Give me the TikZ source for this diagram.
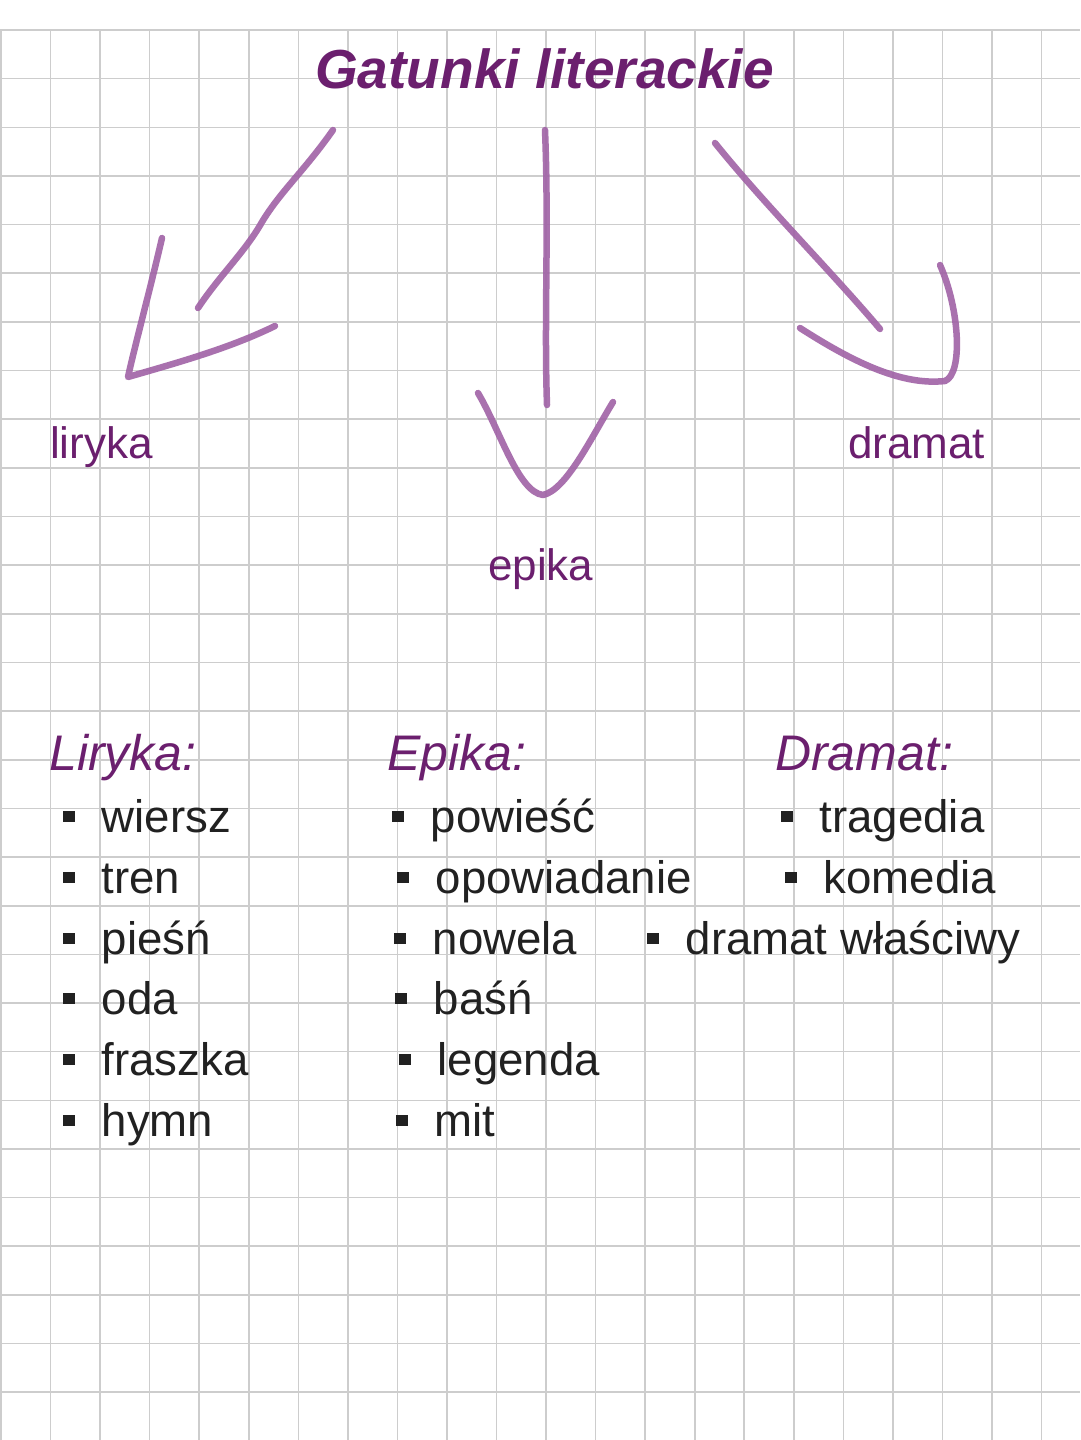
\documentclass[tikz,border=0pt]{standalone}
\usepackage{fontspec}
\setmainfont{Liberation Sans}
\usepackage{tikz}
\usetikzlibrary{positioning}
\definecolor{titlepurple}{HTML}{6B1F6E}
\definecolor{penpurple}{HTML}{A062A6}
\definecolor{textgray}{HTML}{212121}
\definecolor{gridgray}{HTML}{CDCDCD}
\newcommand{\sqbullet}{\rule[10pt]{11.5pt}{11.5pt}\hspace{27pt}}

\begin{document}
\begin{tikzpicture}[x=1pt, y=-1pt,
	grid line/.style={draw=gridgray, line width=1.6pt},
	title node/.style={inner sep=0pt, anchor=base west, text=titlepurple, font=\fontsize{55}{66}\selectfont\bfseries\itshape},
	head node/.style={inner sep=0pt, anchor=base west, text=titlepurple, font=\fontsize{50}{60}\selectfont\itshape},
	genre node/.style={inner sep=0pt, anchor=base west, text=titlepurple, font=\fontsize{44}{53}\selectfont},
	list node/.style={inner sep=0pt, anchor=base west, text=textgray, font=\fontsize{45.6}{54}\selectfont},
	pen/.style={draw=penpurple, line width=6.5pt, line cap=round, line join=round, opacity=0.9}]
		
		% Paper
		\useasboundingbox (0,0) rectangle (1080,1440);
		\fill[white] (0,0) rectangle (1080,1440);
		\foreach \i in {0,...,21}
			\draw[grid line] ({1+49.55*\i},30) -- ({1+49.55*\i},1440);
		\foreach \j in {0,...,28}
			\draw[grid line] (0,{30+48.65*\j}) -- (1080,{30+48.65*\j});
		
		% Nodes
		\node[title node] (title) at (315,88) {Gatunki literackie};
		\node[genre node] (liryka) at (50,458) {liryka};
		\node[genre node] (epika) at (488,580) {epika};
		\node[genre node] (dramat) at (848,458) {dramat};
		
		\node[head node] (lirykaHead) at (49,770) {Liryka:};
		\node[head node] (epikaHead) at (387,770) {Epika:};
		\node[head node] (dramatHead) at (775,770) {Dramat:};
		
		\node[list node] (wiersz) at (63,832) {\sqbullet wiersz};
		\node[list node] (tren) at (63,893) {\sqbullet tren};
		\node[list node] (piesn) at (63,954) {\sqbullet pieśń};
		\node[list node] (oda) at (63,1014) {\sqbullet oda};
		\node[list node] (fraszka) at (63,1075) {\sqbullet fraszka};
		\node[list node] (hymn) at (63,1136) {\sqbullet hymn};
		
		\node[list node] (powiesc) at (392,832) {\sqbullet powieść};
		\node[list node] (opowiadanie) at (397,893) {\sqbullet opowiadanie};
		\node[list node] (nowela) at (394,954) {\sqbullet nowela};
		\node[list node] (basn) at (395,1014) {\sqbullet baśń};
		\node[list node] (legenda) at (399,1075) {\sqbullet legenda};
		\node[list node] (mit) at (396,1136) {\sqbullet mit};
		
		\node[list node] (tragedia) at (781,832) {\sqbullet tragedia};
		\node[list node] (komedia) at (785,893) {\sqbullet komedia};
		\node[list node] (wlasciwy) at (647,954) {\sqbullet dramat właściwy};
		
		% Hand drawn arrows
		\coordinate (lirykaTop) at (333,130);
		\coordinate (lirykaEnd) at (198,308);
		\coordinate (lirykaTip) at (128,377);
		\coordinate (epikaTop) at (545,130);
		\coordinate (epikaEnd) at (547,405);
		\coordinate (epikaTip) at (543,495);
		\coordinate (dramatTop) at (715,143);
		\coordinate (dramatEnd) at (880,329);
		\coordinate (dramatTip) at (945,381);
		
		\draw[pen] (lirykaTop) .. controls (305,170) and (280,192) .. (262,222) .. controls (245,252) and (220,275) .. (lirykaEnd);
		\draw[pen] (162,238) .. controls (150,290) and (135,345) .. (lirykaTip) .. controls (180,362) and (230,348) .. (275,326);
		
		\draw[pen] (epikaTop) .. controls (549,230) and (544,320) .. (epikaEnd);
		\draw[pen] (478,393) .. controls (500,430) and (518,492) .. (epikaTip) .. controls (566,490) and (590,440) .. (613,402);
		
		\draw[pen] (dramatTop) .. controls (765,205) and (830,270) .. (dramatEnd);
		\draw[pen] (800,328) .. controls (850,360) and (900,386) .. (dramatTip) .. controls (963,374) and (960,310) .. (940,265);
	\end{tikzpicture}
\end{document}
